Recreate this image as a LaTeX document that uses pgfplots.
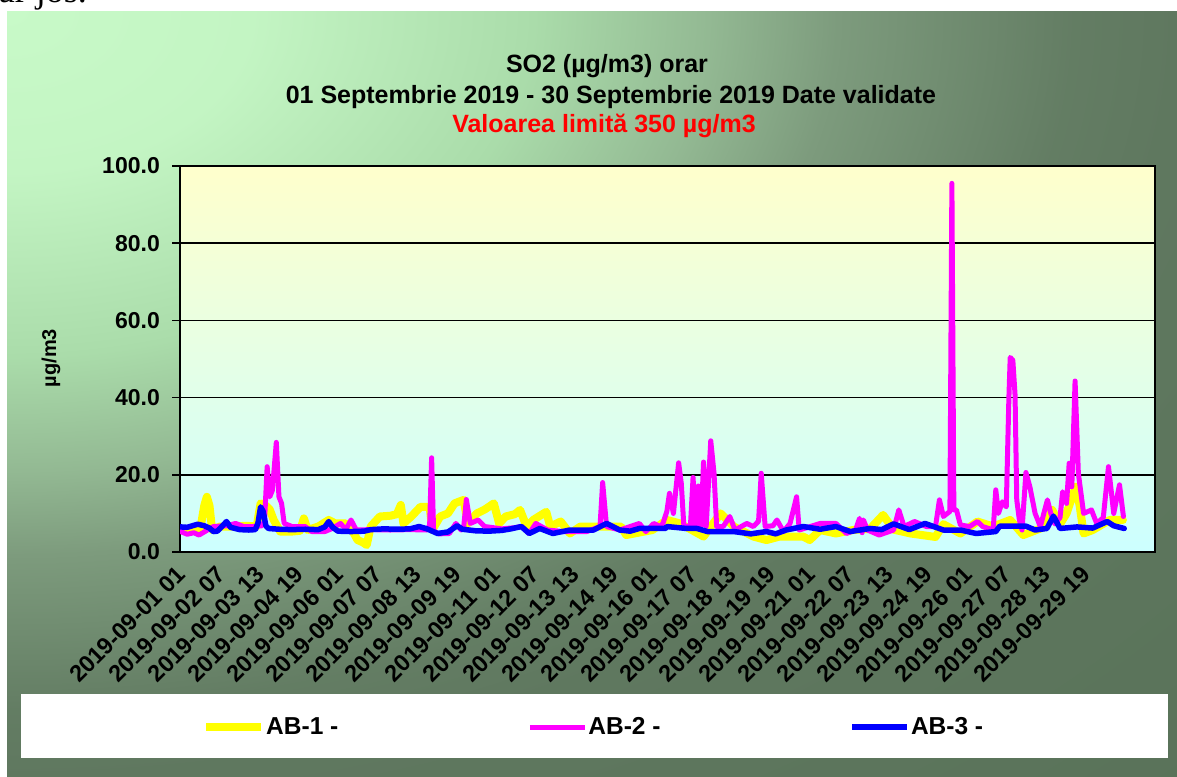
\documentclass[border=0pt]{standalone}
\usepackage{pgfplots}
\pgfplotsset{compat=1.18}
\usepackage{fontspec}
\setmainfont{Liberation Sans}
\newfontfamily\seriffont{Liberation Serif}
\newcommand\tf[1]{\fontsize{#1bp}{#1bp}\selectfont\bfseries}
\pgfdeclareradialshading{bgshade}{\pgfpointorigin}{%
 rgb(0bp)=(0.784,0.98,0.784);
 rgb(5.25bp)=(0.765,0.96,0.765);
 rgb(11.25bp)=(0.667,0.863,0.667);
 rgb(15bp)=(0.576,0.725,0.576);
 rgb(17.75bp)=(0.49,0.608,0.49);
 rgb(22.75bp)=(0.39,0.49,0.39);
 rgb(25bp)=(0.373,0.47,0.373);
 rgb(35.5bp)=(0.35,0.45,0.35)}
\definecolor{plottop}{RGB}{255,255,204}
\definecolor{plotbot}{RGB}{204,255,255}
\definecolor{cyel}{RGB}{255,255,0}
\definecolor{cmag}{RGB}{255,0,255}
\definecolor{cblu}{RGB}{0,0,255}
\definecolor{cred}{RGB}{255,0,0}
\begin{document}
\begin{tikzpicture}[x=1bp,y=1bp]
\path[use as bounding box] (0,0) rectangle (1177,-777);
\fill[white] (0,0) rectangle (1177,-777);
\node[anchor=base east, inner sep=0pt, font=\seriffont\fontsize{36bp}{36bp}\selectfont] at (87,-2.5) {ar jos.};
\begin{scope}
\clip (7,-12) rectangle (1177,-777);
\shade[shading=bgshade] (-1163,753) rectangle (1177,-777);
\end{scope}
\fill[white] (21,-694) rectangle (1168,-758);
\node[anchor=base, inner sep=0pt, font=\tf{25}] at (607,-73) {SO2 (µg/m3) orar};
\node[anchor=base, inner sep=0pt, font=\tf{25}] at (611,-104) {01 Septembrie 2019 - 30 Septembrie 2019 Date validate};
\node[anchor=base, inner sep=0pt, font=\tf{25}, text=cred] at (604,-132) {Valoarea limită 350 µg/m3};
\node[rotate=90, inner sep=0pt, font=\tf{20}] at (51,-358) {µg/m3};
\begin{axis}[
  at={(180bp,-552bp)}, anchor=south west,
  scale only axis, width=975bp, height=386bp,
  xmin=-0.5, xmax=743.5, ymin=0, ymax=100,
  xtick={0,30,...,690},
  xticklabels={2019-09-01 01,2019-09-02 07,2019-09-03 13,2019-09-04 19,2019-09-06 01,2019-09-07 07,2019-09-08 13,2019-09-09 19,2019-09-11 01,2019-09-12 07,2019-09-13 13,2019-09-14 19,2019-09-16 01,2019-09-17 07,2019-09-18 13,2019-09-19 19,2019-09-21 01,2019-09-22 07,2019-09-23 13,2019-09-24 19,2019-09-26 01,2019-09-27 07,2019-09-28 13,2019-09-29 19},
  ytick={0,20,...,100},
  yticklabels={0.0,20.0,40.0,60.0,80.0,100.0},
  tick pos=left, tick align=outside, major tick length=8bp,
  xtick style={draw=none},
  ytick style={black, line width=1.5bp},
  xticklabel style={font=\tf{23.5}, inner sep=0pt, yshift=-4bp, xshift=-5bp, rotate=45, anchor=north east},
  yticklabel style={font=\tf{23}, inner sep=0pt, xshift=-12bp},
  ymajorgrids,
  major grid style={black, line width=1.5bp},
  axis line style={black, line width=1.6bp},
  axis background/.style={shade, top color=plottop, bottom color=plotbot},
  legend columns=3,
  legend image code/.code={\draw[#1, line cap=butt] (0bp,0bp) -- (55bp,0bp);},
  legend style={at={(0.0226,-0.4534)}, anchor=west, draw=none, fill=none, inner sep=0pt,
    font=\tf{24.5}, nodes={inner sep=1bp},
    /tikz/every even column/.append style={column sep=188bp}},
  legend cell align=left,
]
\addplot[color=cyel, line width=8bp, line join=round, line cap=round] coordinates {
(0,5.7) (8,5.7) (15,6.0) (18,12.0) (20,14.3) (22,12.0) (24,5.7) (30,6.6) (40,6.6) (50,6.8) (58,6.6) (61,12.6) (65,12.0) (68,11.0) (71,8.3) (76,5.3) (85,5.3) (91,5.5) (94,8.7) (97,5.7) (105,6.6) (113,8.3) (118,7.4) (126,7.4) (131,5.5) (135,3.1) (139,2.5) (142,1.8) (145,6.6) (152,9.2) (160,9.4) (165,9.8) (168,12.2) (170,7.4) (176,9.2) (183,11.7) (190,11.7) (192,5.7) (198,9.2) (204,10.0) (209,12.6) (212,13.0) (216,13.5) (219,7.4) (226,10.0) (232,11.0) (239,12.6) (243,7.4) (248,9.2) (255,9.8) (259,10.9) (264,6.6) (269,8.3) (277,10.0) (279,10.4) (282,6.6) (290,7.9) (297,4.8) (305,6.6) (320,6.6) (336,6.6) (340,4.4) (360,5.7) (371,8.3) (381,7.4) (399,4.0) (412,10.0) (422,6.6) (437,4.0) (447,3.1) (457,4.0) (475,4.0) (480,3.1) (488,5.7) (500,4.8) (513,5.7) (526,6.0) (536,9.6) (544,5.8) (557,4.8) (576,3.9) (582,7.2) (595,4.8) (608,7.9) (620,6.6) (633,8.3) (643,4.4) (660,6.6) (665,10.9) (671,7.2) (676,10.0) (680,14.0) (683,16.9) (686,12.0) (689,4.8) (696,5.7) (709,8.3) (719,8.3)
};
\addlegendentry{AB-1 -}
\addplot[color=cmag, line width=5bp, line join=round, line cap=round] coordinates {
(0,5.3) (5,4.6) (10,5.0) (14,4.4) (18,5.2) (25,6.6) (35,6.8) (42,7.4) (48,6.6) (55,6.6) (62,6.8) (64,8.0) (66,22.1) (68,14.3) (70,16.0) (73,28.4) (75,14.3) (77,12.6) (79,7.4) (85,6.6) (95,6.6) (100,5.3) (110,5.3) (115,6.0) (122,7.4) (126,5.8) (130,8.3) (134,5.7) (145,5.8) (160,5.7) (175,5.8) (188,5.7) (190,7.0) (191.5,24.4) (193,5.5) (197,4.7) (205,4.8) (210,7.4) (214,5.7) (216,6.5) (218,13.6) (221,7.4) (227,8.3) (232,6.6) (245,6.0) (255,6.3) (260,6.6) (266,4.8) (271,7.4) (280,5.7) (292,5.3) (310,5.3) (320,6.6) (322,18.0) (325,6.6) (335,5.7) (350,7.4) (355,5.3) (361,7.4) (366,6.6) (368,7.4) (371,10.5) (373,15.2) (376,10.0) (380,23.1) (382,17.8) (384,6.6) (389,6.8) (391,19.3) (393,6.6) (395,17.1) (397,6.6) (399,23.3) (401,6.6) (404.5,28.8) (407,20.4) (409,6.6) (414,6.6) (419,9.2) (423,5.7) (432,7.4) (437,6.6) (441,8.0) (443,20.4) (446,6.6) (452,6.8) (455,8.3) (460,5.3) (465,7.4) (470,14.3) (472,5.7) (488,7.4) (500,7.4) (508,4.8) (515,5.7) (518,8.7) (520,5.0) (521,8.3) (524,5.7) (533,4.4) (544,5.7) (548,10.9) (552,6.6) (560,7.9) (569,6.6) (576,6.6) (579,13.5) (582,9.2) (585,10.0) (587,10.5) (588.5,95.5) (590,10.9) (592,10.9) (595,7.0) (602,6.6) (608,7.9) (612,6.6) (620,5.7) (622,16.1) (624,10.0) (627,13.0) (630,11.7) (632,40.0) (633,50.4) (635,49.7) (636.7,40.7) (638,13.5) (640,8.3) (642,5.7) (645,20.6) (648,16.9) (652,10.0) (656,6.6) (661.4,13.5) (664,10.0) (667,7.3) (671,8.9) (673,15.6) (676,12.6) (678,23.0) (680,16.9) (682.5,44.3) (685,20.4) (689,10.0) (695,10.9) (699,7.4) (704,8.9) (708,22.1) (712,10.0) (716.4,17.4) (719.4,9.2)
};
\addlegendentry{AB-2 -}
\addplot[color=cblu, line width=5.5bp, line join=round, line cap=round] coordinates {
(0,6.5) (5,6.4) (10,6.9) (13,7.2) (18,6.8) (22,6.2) (25,5.3) (28,5.4) (32,6.8) (35,7.9) (38,6.4) (45,5.8) (52,5.7) (57,5.8) (59,7.5) (61,11.7) (63,10.5) (65,6.8) (67,6.1) (75,5.9) (85,5.8) (95,5.9) (105,5.8) (110,6.5) (113,7.9) (116,6.4) (120,5.4) (130,5.3) (140,5.4) (145,5.8) (155,6.0) (165,5.9) (175,6.0) (182,6.6) (188,6.0) (196,4.8) (204,5.2) (211,6.8) (215,5.9) (225,5.5) (235,5.4) (245,5.6) (252,6.0) (260,6.6) (266,4.8) (274,6.1) (284,4.8) (297,5.7) (315,5.7) (325,7.4) (335,5.7) (343,5.4) (350,6.1) (370,6.1) (371,6.6) (386,6.1) (394,6.1) (402,5.3) (422,5.3) (435,4.7) (447,5.3) (454,4.7) (462,5.7) (475,6.6) (488,5.9) (500,6.6) (511,5.3) (526,6.1) (535,5.8) (544,7.3) (556,5.8) (568,7.4) (582,5.7) (595,5.7) (607,4.8) (622,5.3) (625,6.7) (645,6.7) (652,5.7) (661,6.1) (666,9.3) (671,6.1) (684,6.5) (696,6.2) (707,7.9) (712,6.8) (720,6.1)
};
\addlegendentry{AB-3 -}
\end{axis}
\end{tikzpicture}
\end{document}
